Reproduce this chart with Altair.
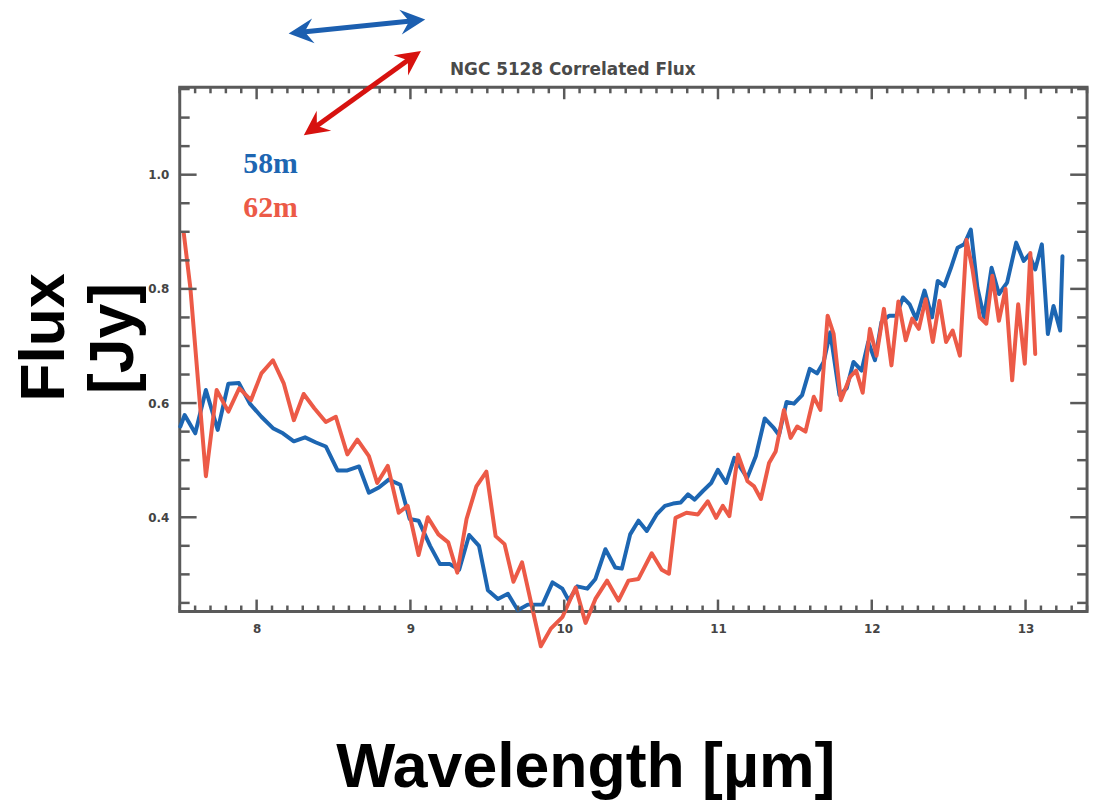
import altair as alt
import pandas as pd

# ---------------- data ----------------
wl_58 = [7.504, 7.532, 7.601, 7.670, 7.747, 7.816, 7.885, 7.956, 8.031, 8.106,
         8.171, 8.242, 8.315, 8.386, 8.450, 8.526, 8.590, 8.666, 8.730, 8.795,
         8.859, 8.934, 8.995, 9.053, 9.128, 9.192, 9.257, 9.317, 9.382, 9.446,
         9.504, 9.569, 9.634, 9.698, 9.763, 9.859, 9.924, 9.988, 10.030, 10.085,
         10.150, 10.203, 10.268, 10.332, 10.375, 10.429, 10.483, 10.537, 10.601, 10.655,
         10.708, 10.758, 10.805, 10.848, 10.902, 10.956, 10.999, 11.053, 11.106, 11.190,
         11.246, 11.304, 11.364, 11.397, 11.446, 11.494, 11.547, 11.597, 11.644, 11.687,
         11.730, 11.790, 11.837, 11.881, 11.934, 11.977, 12.021, 12.063, 12.113, 12.160,
         12.203, 12.246, 12.289, 12.343, 12.392, 12.429, 12.472, 12.515, 12.558, 12.601,
         12.644, 12.687, 12.730, 12.779, 12.827, 12.880, 12.939, 12.988, 13.024, 13.063,
         13.106, 13.145, 13.182, 13.225, 13.240]
flux_58 = [0.559, 0.579, 0.547, 0.623, 0.553, 0.634, 0.635, 0.599, 0.576, 0.556,
           0.547, 0.533, 0.540, 0.531, 0.524, 0.482, 0.482, 0.489, 0.443, 0.452,
           0.466, 0.457, 0.397, 0.394, 0.350, 0.318, 0.318, 0.308, 0.369, 0.350,
           0.272, 0.257, 0.266, 0.237, 0.247, 0.247, 0.286, 0.275, 0.254, 0.279,
           0.275, 0.292, 0.344, 0.312, 0.310, 0.370, 0.394, 0.376, 0.405, 0.420,
           0.424, 0.426, 0.440, 0.431, 0.446, 0.460, 0.483, 0.460, 0.504, 0.469,
           0.507, 0.573, 0.556, 0.544, 0.602, 0.599, 0.614, 0.660, 0.652, 0.672,
           0.724, 0.614, 0.626, 0.672, 0.657, 0.707, 0.675, 0.742, 0.753, 0.753,
           0.785, 0.773, 0.747, 0.797, 0.750, 0.814, 0.805, 0.837, 0.872, 0.878,
           0.904, 0.802, 0.750, 0.837, 0.791, 0.811, 0.881, 0.849, 0.860, 0.834,
           0.878, 0.721, 0.770, 0.727, 0.857]

wl_62 = [7.526, 7.569, 7.670, 7.740, 7.816, 7.887, 7.963, 8.031, 8.106, 8.177,
         8.242, 8.306, 8.375, 8.450, 8.515, 8.590, 8.655, 8.730, 8.784, 8.853,
         8.924, 8.982, 9.053, 9.113, 9.182, 9.246, 9.305, 9.365, 9.429, 9.494,
         9.554, 9.612, 9.670, 9.726, 9.848, 9.913, 9.988, 10.074, 10.139, 10.203,
         10.279, 10.353, 10.418, 10.483, 10.569, 10.634, 10.681, 10.724, 10.795, 10.870,
         10.934, 10.988, 11.031, 11.074, 11.130, 11.192, 11.235, 11.279, 11.332, 11.375,
         11.429, 11.472, 11.515, 11.569, 11.623, 11.666, 11.713, 11.752, 11.799, 11.859,
         11.898, 11.941, 11.988, 12.031, 12.079, 12.128, 12.173, 12.221, 12.263, 12.306,
         12.350, 12.397, 12.440, 12.483, 12.526, 12.573, 12.616, 12.655, 12.702, 12.745,
         12.784, 12.827, 12.870, 12.913, 12.952, 12.995, 13.031, 13.063]
flux_62 = [0.898, 0.802, 0.472, 0.623, 0.585, 0.626, 0.605, 0.652, 0.675, 0.634,
           0.570, 0.616, 0.591, 0.567, 0.576, 0.510, 0.536, 0.507, 0.460, 0.490,
           0.408, 0.420, 0.334, 0.400, 0.370, 0.356, 0.303, 0.397, 0.454, 0.480,
           0.367, 0.353, 0.287, 0.321, 0.174, 0.205, 0.225, 0.277, 0.215, 0.257,
           0.289, 0.254, 0.289, 0.292, 0.337, 0.308, 0.301, 0.399, 0.408, 0.405,
           0.428, 0.399, 0.420, 0.402, 0.510, 0.463, 0.454, 0.432, 0.495, 0.515,
           0.588, 0.539, 0.559, 0.550, 0.611, 0.588, 0.753, 0.721, 0.605, 0.646,
           0.657, 0.618, 0.730, 0.683, 0.765, 0.666, 0.778, 0.710, 0.748, 0.730,
           0.782, 0.707, 0.779, 0.707, 0.727, 0.683, 0.886, 0.834, 0.750, 0.739,
           0.823, 0.744, 0.800, 0.640, 0.773, 0.669, 0.863, 0.686]

x_tick_major = [8, 9, 10, 11, 12, 13]
y_tick_major = [0.4, 0.6, 0.8, 1.0]
x_tick_minor = [round(7.5 + 0.1 * i, 1) for i in range(60) if (75 + i) % 10 != 0]
y_tick_minor = [round(0.25 + 0.05 * i, 2) for i in range(19) if i % 4 != 3]

series_labels = ["58m", "62m"]
title_text = "NGC 5128 Correlated Flux"
x_title = "Wavelength [µm]"
y_title = ["Flux", "[Jy]"]

# ---------------- styling ----------------
W, H = 914, 528
BLUE = "#1d66b2"
RED = "#ec5a47"
ARROW_BLUE = "#1c5fb0"
ARROW_RED = "#d7120f"
AX = "#5a5a5a"

xs = alt.Scale(domain=[7.5, 13.4], nice=False, zero=False)
ys = alt.Scale(domain=[0.235, 1.153], nice=False, zero=False)

xaxis = alt.Axis(values=x_tick_major, format="d", ticks=False, domain=False, grid=False,
                 labelFont="DejaVu Sans", labelFontWeight="bold", labelFontSize=12,
                 labelColor="#444444", labelPadding=12, title=None)
yaxis = alt.Axis(values=y_tick_major, format=".1f", ticks=False, domain=False, grid=False,
                 labelFont="DejaVu Sans", labelFontWeight="bold", labelFontSize=12,
                 labelColor="#444444", labelPadding=11, title=None)

df58 = pd.DataFrame({"wl": wl_58, "flux": flux_58})
df62 = pd.DataFrame({"wl": wl_62, "flux": flux_62})

line58 = alt.Chart(df58).mark_line(color=BLUE, strokeWidth=4, strokeJoin="round", strokeCap="round").encode(
    x=alt.X("wl:Q", scale=xs, axis=xaxis),
    y=alt.Y("flux:Q", scale=ys, axis=yaxis),
)
line62 = alt.Chart(df62).mark_line(color=RED, strokeWidth=4, strokeJoin="round", strokeCap="round").encode(
    x=alt.X("wl:Q", scale=xs, axis=xaxis),
    y=alt.Y("flux:Q", scale=ys, axis=yaxis),
)


def xticks(values, y0, y1):
    return alt.Chart(pd.DataFrame({"wl": values})).mark_rule(color=AX, strokeWidth=2.5).encode(
        x=alt.X("wl:Q", scale=xs, axis=xaxis), y=alt.value(y0), y2=alt.value(y1))


def yticks(values, x0, x1):
    return alt.Chart(pd.DataFrame({"flux": values})).mark_rule(color=AX, strokeWidth=2.5).encode(
        y=alt.Y("flux:Q", scale=ys, axis=yaxis), x=alt.value(x0), x2=alt.value(x1))


ticks = [
    xticks(x_tick_major, H, H - 12), xticks(x_tick_minor, H, H - 6),
    xticks(x_tick_major, 0, 12), xticks(x_tick_minor, 0, 6),
    yticks(y_tick_major, 0, 17), yticks(y_tick_minor, 0, 10),
    yticks(y_tick_major, W, W - 17), yticks(y_tick_minor, W, W - 10),
]


def text(label, x, y, **kw):
    return alt.Chart(pd.DataFrame({"label": [label]})).mark_text(**kw).encode(
        x=alt.value(x), y=alt.value(y), text="label:N")


one = pd.DataFrame({"a": [0]})
HEAD = "M0,0L-2,-1L-1.3,0L-2,1Z"


def shaft(x0, y0, x1, y1, color):
    return alt.Chart(one).mark_rule(color=color, strokeWidth=5).encode(
        x=alt.value(x0), y=alt.value(y0), x2=alt.value(x1), y2=alt.value(y1))


def head(x, y, ang, color):
    return alt.Chart(one).mark_point(shape=HEAD, filled=True, size=625, color=color,
                                     opacity=1, strokeWidth=0, angle=ang).encode(
        x=alt.value(x), y=alt.value(y))


annotations = [
    text(title_text, 396, -17, font="DejaVu Sans", fontWeight="bold", fontSize=17,
         color="#4a4a4a", align="center", baseline="middle"),
    text(series_labels[0], 64, 86, font="Liberation Serif", fontWeight="bold", fontSize=30,
         color=BLUE, align="left", baseline="alphabetic"),
    text(series_labels[1], 64, 131, font="Liberation Serif", fontWeight="bold", fontSize=30,
         color=RED, align="left", baseline="alphabetic"),
    text(x_title, 409, 705, font="Liberation Sans", fontWeight="bold", fontSize=63,
         color="black", align="center", baseline="alphabetic"),
    text(y_title[0], -117, 252, font="Liberation Sans", fontWeight="bold", fontSize=63,
         color="black", align="center", baseline="alphabetic", angle=270),
    text(y_title[1], -47, 253, font="Liberation Sans", fontWeight="bold", fontSize=63,
         color="black", align="center", baseline="alphabetic", angle=270),
    shaft(121.6, -55.5, 235.4, -67.1, ARROW_BLUE),
    head(109.7, -54.3, 174.2, ARROW_BLUE),
    head(247.3, -68.3, 354.2, ARROW_BLUE),
    shaft(134.7, 41.3, 233.3, -29.7, ARROW_RED),
    head(125.0, 48.3, 144.2, ARROW_RED),
    head(243.0, -36.7, 324.2, ARROW_RED),
]

chart = alt.layer(line58, line62, *ticks, *annotations).properties(
    width=W, height=H,
    padding={"left": 173, "top": 77, "right": 9, "bottom": 188},
    autosize=alt.AutoSizeParams(type="none"),
    background="white",
).configure_view(stroke=AX, strokeWidth=3)

chart.save("out.html", embed_options={"renderer": "svg", "actions": False})
